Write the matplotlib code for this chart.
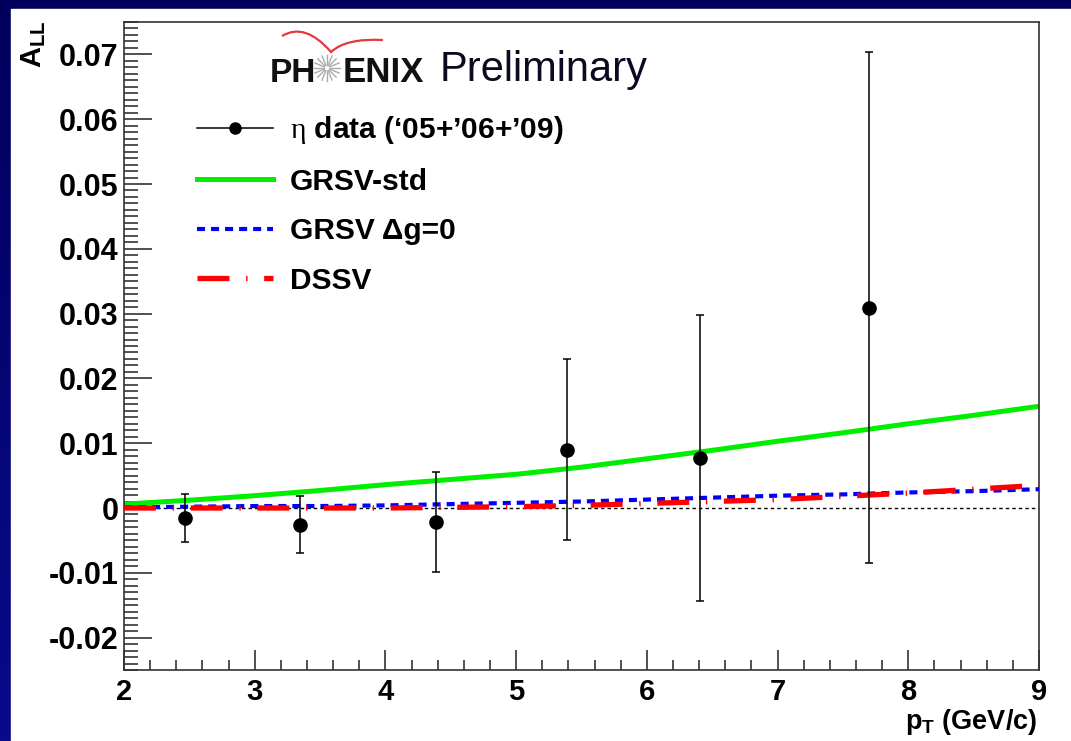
import numpy as np
import matplotlib
matplotlib.use("Agg")
import matplotlib.pyplot as plt
from matplotlib.lines import Line2D
from matplotlib.patches import Rectangle, PathPatch
from matplotlib.path import Path
from matplotlib.colors import LinearSegmentedColormap

plt.rcParams['font.family'] = ['Liberation Sans', 'DejaVu Sans']
plt.rcParams['mathtext.fontset'] = 'custom'
plt.rcParams['mathtext.rm'] = 'Liberation Serif'
plt.rcParams['mathtext.bf'] = 'Liberation Sans:bold'
plt.rcParams['lines.scale_dashes'] = False

# eta A_LL data points (pT, asymmetry, stat error)
pt_data = [2.47, 3.35, 4.39, 5.39, 6.41, 7.70]
all_data = [-0.0016, -0.0026, -0.0021, 0.0090, 0.0077, 0.0309]
all_err = [0.0037, 0.0044, 0.0077, 0.0140, 0.0221, 0.0394]

# theory curves
pt_theory = [2.0, 2.5, 3.0, 3.5, 4.0, 4.5, 5.0, 5.5, 6.0, 6.5, 7.0, 7.5, 8.0, 8.5, 9.0]
grsv_std = [0.0006, 0.0012, 0.0019, 0.0027, 0.0036, 0.0044, 0.0052, 0.0063,
            0.0076, 0.0089, 0.0103, 0.0116, 0.0130, 0.0143, 0.0157]
grsv_zero = [0.0001, 0.0002, 0.0003, 0.0003, 0.0004, 0.0006, 0.0008, 0.0010,
             0.0013, 0.0016, 0.0019, 0.0021, 0.0024, 0.0026, 0.0029]
dssv = [0.0000, 0.0000, 0.0000, 0.0000, 0.0000, 0.0001, 0.0002, 0.0004,
        0.0007, 0.0010, 0.0013, 0.0018, 0.0023, 0.0029, 0.0035]

W, H = 1071, 741
fig = plt.figure(figsize=(W / 100, H / 100), dpi=100)


def fx(px):
    return px / W


def fy(py):
    return 1 - py / H


# slide background: navy gradient with white panel
bg = fig.add_axes([0, 0, 1, 1], zorder=-10)
navy = LinearSegmentedColormap.from_list('navy', ['#00005c', '#0a0a8c'])
bg.imshow(np.linspace(0, 1, 256).reshape(-1, 1), aspect='auto', cmap=navy,
          extent=[0, 1, 0, 1], origin='upper')
bg.add_patch(Rectangle((fx(11), 0), 1 - fx(11), fy(9), color='white'))
bg.set_xlim(0, 1)
bg.set_ylim(0, 1)
bg.axis('off')

ax = fig.add_axes([fx(124), fy(670), fx(1039) - fx(124), fy(22) - fy(670)])
ax.set_facecolor('white')

ax.axhline(0, color='black', lw=1.0, dashes=(2.5, 2.2), zorder=1)

ax.plot(pt_theory, grsv_std, color='#00ee00', lw=3.6, zorder=2,
        solid_capstyle='butt')
ax.plot(pt_theory, grsv_zero, color='#0000ff', lw=3.0, dashes=(5.8, 4.3), zorder=3)
ax.plot(pt_theory, dssv, color='#ff0000', lw=3.8, dashes=(23, 12, 1, 12), zorder=4)

ax.errorbar(pt_data, all_data, yerr=all_err, fmt='o', color='black', ms=9.5,
            elinewidth=1.1, capsize=3.2, capthick=1.1, zorder=5)

ax.set_xlim(2, 9)
ax.set_ylim(-0.025, 0.075)
ax.set_xticks(range(2, 10))
ax.set_xticks(np.arange(2, 9.01, 0.2), minor=True)
ax.set_yticks(np.arange(-0.02, 0.0701, 0.01))
ax.set_yticks(np.arange(-0.025, 0.0751, 0.001), minor=True)
ax.set_yticklabels(['-0.02', '-0.01', '0', '0.01', '0.02', '0.03', '0.04',
                    '0.05', '0.06', '0.07'])

for s in ax.spines.values():
    s.set_color('#333333')
    s.set_linewidth(1.2)

ax.tick_params(axis='both', which='both', direction='in', color='#222222',
               top=False, right=False, width=1.1)
ax.tick_params(axis='y', which='major', length=20, pad=4, labelsize=22)
ax.tick_params(axis='y', which='minor', length=10)
ax.tick_params(axis='x', which='major', length=14.4, pad=6, labelsize=21)
ax.tick_params(axis='x', which='minor', length=7.2)
for lab in ax.get_xticklabels() + ax.get_yticklabels():
    lab.set_fontweight('bold')

# axis titles
fig.text(fx(34), fy(20), r'$\mathbf{A}_{\mathbf{LL}}$', rotation=90,
         ha='center', va='top', fontsize=21)
fig.text(fx(1037), fy(729), r'$\mathbf{p}_{\mathbf{T}}$ (GeV/c)',
         ha='right', va='baseline', fontsize=19.5, fontweight='bold')

# legend
handles = [
    Line2D([], [], color='black', lw=1.1, marker='o', ms=8),
    Line2D([], [], color='#00ee00', lw=3.6),
    Line2D([], [], color='#0000ff', lw=3.0, dashes=(5.8, 4.3)),
    Line2D([], [], color='#ff0000', lw=3.8, dashes=(23, 12, 1, 12)),
]
labels = [r'$\mathrm{\eta}$ data (‘05+’06+’09)', 'GRSV-std',
          'GRSV \u0394g=0', 'DSSV']
ax.legend(handles, labels, loc='upper left', bbox_to_anchor=(0.0798, 0.858),
          frameon=False, borderpad=0, borderaxespad=0, handlelength=2.55,
          handletextpad=0.55, labelspacing=0.72,
          prop={'size': 21.5, 'weight': 'bold'})

# PHENIX Preliminary logo
fig.text(fx(270), fy(82), 'PH', fontsize=24, fontweight='bold', va='baseline',
         color='#111111')
fig.text(fx(343), fy(82), 'ENIX', fontsize=25, fontweight='bold', va='baseline',
         color='#111111')
fig.text(fx(440), fy(81), 'Preliminary', fontsize=30, va='baseline',
         color='#0a0a20')
cx, cy = 327, 68
for a in np.linspace(0, 2 * np.pi, 16, endpoint=False):
    fig.add_artist(Line2D([fx(cx + 3 * np.cos(a)), fx(cx + 13 * np.cos(a))],
                          [fy(cy + 3 * np.sin(a)), fy(cy + 13 * np.sin(a))],
                          color='#aaaaaa', lw=1.0))
wing = Path([(fx(282), fy(36)), (fx(305), fy(22)), (fx(331), fy(52)),
             (fx(346), fy(38)), (fx(383), fy(40))],
            [Path.MOVETO, Path.CURVE3, Path.CURVE3, Path.CURVE3, Path.CURVE3])
fig.add_artist(PathPatch(wing, transform=fig.transFigure, fill=False,
                         edgecolor='#e8383c', lw=1.6))

fig.savefig('out.png', dpi=100)
